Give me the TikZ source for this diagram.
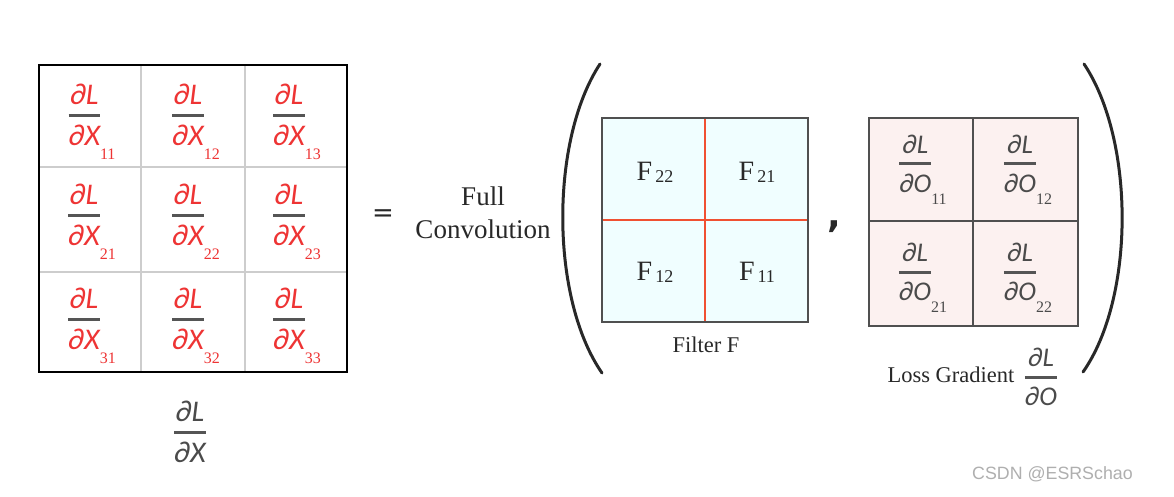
\documentclass[tikz,border=0pt]{standalone}
\usepackage{fontspec}
\setmainfont{Liberation Serif}
\newfontfamily\pdfont{Carlito}
\newfontfamily\subfam{Liberation Serif}
\newfontfamily\wmfont{Liberation Sans}
\newfontfamily\symfont{DejaVu Sans}
\definecolor{gradred}{RGB}{238,52,52}
\definecolor{fbar}{RGB}{85,85,85}
\definecolor{ograd}{RGB}{75,75,75}
\definecolor{gridgray}{RGB}{205,205,205}
\definecolor{boxgray}{RGB}{80,80,80}
\definecolor{filtfill}{RGB}{240,254,255}
\definecolor{lossfill}{RGB}{252,241,240}
\definecolor{filtred}{RGB}{240,80,50}
\definecolor{wmgray}{RGB}{175,175,175}
\definecolor{txt}{RGB}{40,40,40}
% #1 colour, #2 numerator, #3 denominator, #4 subscript, #5 drop of subscript
\newcommand\subsize{\fontsize{16}{16}\selectfont}
\newcommand\gfrac[5]{{\color{fbar}$\displaystyle{\hbox{\color{#1}\pdfont\itshape #2}\above 3pt\hbox{\color{#1}\pdfont\itshape #3\rlap{\smash{\raisebox{#5}{\color{#1}\subfam\upshape\subsize #4}}}}}$}\hphantom{\subfam\upshape\subsize #4}}
\newcommand\fsub[1]{F\hspace{3pt}\raisebox{-2pt}{\fontsize{18}{18}\selectfont #1}}
\tikzset{
  xfrac/.style={inner sep=0pt, font=\fontsize{30}{32}\selectfont},
  ofrac/.style={inner sep=0pt, font=\fontsize{27}{30}\selectfont},
  flabel/.style={inner sep=0pt, text=txt, font=\fontsize{28}{30}\selectfont},
  caption/.style={inner sep=0pt, anchor=base, text=txt, font=\fontsize{22.5}{26}\selectfont},
  bigtext/.style={inner sep=0pt, anchor=base, text=txt, font=\fontsize{27}{30}\selectfont},
  paren/.style={line width=3pt, draw=txt, line cap=round},
}
\begin{document}
\begin{tikzpicture}[x=1pt,y=-1pt]
\useasboundingbox (0,0) rectangle (1174,496);
\fill[white] (0,0) rectangle (1174,496);
% left 3x3 grid
\draw[gridgray, line width=1.2pt] (141,65) -- (141,372) (245,65) -- (245,372)
  (39,167) -- (347,167) (39,272) -- (347,272);
\draw[black, line width=2.5pt] (39,65) rectangle (347,372);
\foreach \c/\x in {1/92,2/196,3/297}{
  \foreach \r/\y in {1/115,2/215,3/319}{
    \node[xfrac] (dx\r\c) at (\x,\y) {\gfrac{gradred}{∂L}{∂X}{\r\c}{-14pt}};
  }
}
\node[xfrac] (dLdX) at (190,432) {\gfrac{ograd}{∂L}{∂X}{}{0pt}};
% equals and Full Convolution
\node[inner sep=0pt, text=txt, font=\symfont\fontsize{26}{28}\selectfont] (eq) at (383,216) {=};
\node[bigtext] (full) at (483,205) {Full};
\node[bigtext] (conv) at (483,238) {Convolution};
% parentheses
\coordinate (lpt) at (600,64); \coordinate (lpb) at (602,373);
\coordinate (rpt) at (1084,64); \coordinate (rpb) at (1083,372);
\draw[paren] (lpt) .. controls (550,140) and (550,298) .. (lpb);
\draw[paren] (rpt) .. controls (1135,140) and (1135,298) .. (rpb);
% filter box
\fill[filtfill] (602,118) rectangle (808,322);
\draw[filtred, line width=2pt] (705,118) -- (705,322) (602,220) -- (808,220);
\draw[boxgray, line width=2pt] (602,118) rectangle (808,322);
\node[flabel] (f22) at (655,172) {\fsub{22}};
\node[flabel] (f21) at (757,172) {\fsub{21}};
\node[flabel] (f12) at (655,272) {\fsub{12}};
\node[flabel] (f11) at (757,272) {\fsub{11}};
\node[caption] (filt) at (706,352) {Filter F};
% comma
\node[inner sep=0pt, anchor=base, text=txt, font=\symfont\bfseries\fontsize{36}{36}\selectfont] (comma) at (834,227) {,};
% loss gradient box
\fill[lossfill] (869,118) rectangle (1078,326);
\draw[boxgray, line width=1.5pt] (973,118) -- (973,326) (869,221) -- (1078,221);
\draw[boxgray, line width=2pt] (869,118) rectangle (1078,326);
\node[ofrac] (do11) at (923,164) {\gfrac{ograd}{∂L}{∂O}{11}{-12pt}};
\node[ofrac] (do12) at (1028,164) {\gfrac{ograd}{∂L}{∂O}{12}{-12pt}};
\node[ofrac] (do21) at (923,272) {\gfrac{ograd}{∂L}{∂O}{21}{-12pt}};
\node[ofrac] (do22) at (1028,272) {\gfrac{ograd}{∂L}{∂O}{22}{-12pt}};
\node[caption] (loss) at (951,382) {Loss Gradient};
\node[inner sep=0pt, font=\fontsize{27}{28}\selectfont] (dLdO) at (1041,377) {\gfrac{ograd}{∂L}{∂O}{}{0pt}};
% watermark
\node[inner sep=0pt, anchor=base west, text=wmgray, font=\wmfont\fontsize{17.8}{18}\selectfont] (wm) at (972,479) {CSDN @ESRSchao};
\end{tikzpicture}
\end{document}
